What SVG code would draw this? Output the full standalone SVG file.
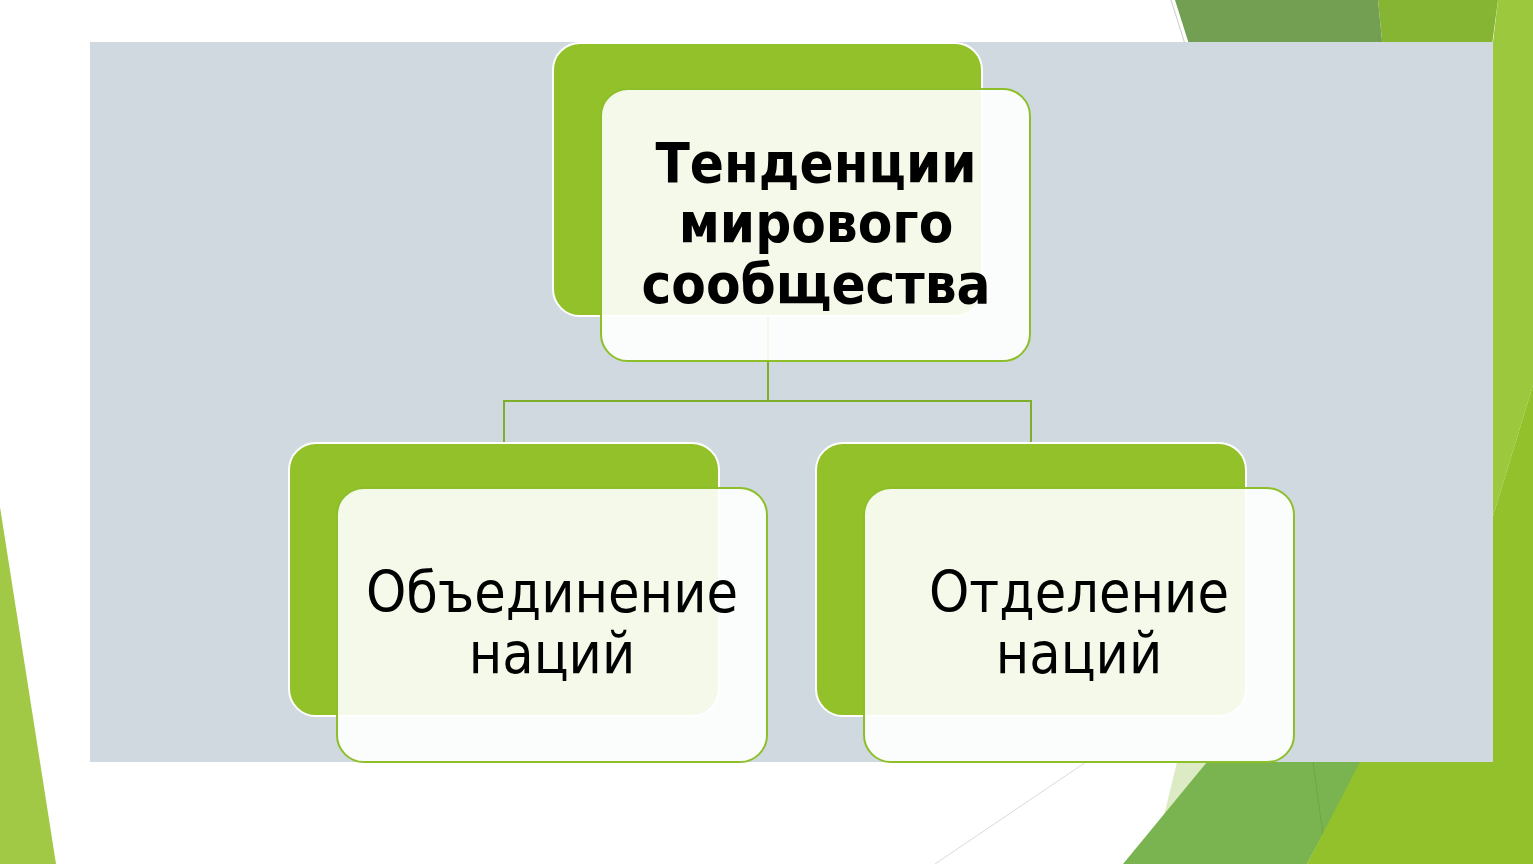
<svg xmlns="http://www.w3.org/2000/svg" width="1533" height="864" viewBox="0 0 1533 864">
<style>
.back{fill:#92C12A;stroke:#FFFFFF;stroke-width:2}
.front{fill:#FFFFFF;fill-opacity:0.9;stroke:#8DBF2B;stroke-width:2}
.conn{fill:none;stroke:#7FAE2C;stroke-width:2}
.t{font-family:"DejaVu Sans Condensed","DejaVu Sans","Noto Sans",sans-serif;font-stretch:condensed;font-size:57px;fill:#000000;text-anchor:middle}
.tb{font-weight:bold;font-size:56px}
</style>
<rect x="0" y="0" width="1533" height="864" fill="#FFFFFF"/>
<g id="decor">
<polygon points="1175,0 1378,0 1384,60 1194,60" fill="#729F52"/>
<line x1="1171" y1="0" x2="1185" y2="44" stroke="#C8CDC8" stroke-width="1"/>
<polygon points="1378,0 1498,0 1490,60 1384,60" fill="#86B534"/>
<polygon points="1498,0 1533,0 1533,385 1493,516 1493,42" fill="#9BC83C"/>
<polygon points="1493,516 1533,385 1533,864 1493,864" fill="#92C12B"/>
<polygon points="0,507 0,864 56,864" fill="#A2C945"/>
<polygon points="1177,762 1210,762 1163,820" fill="#DDEBC5"/>
<polygon points="1207,762 1362,762 1307,864 1123,864" fill="#7AB450"/>
<line x1="1313" y1="762" x2="1327" y2="864" stroke="#6FA548" stroke-width="1"/>
<polygon points="1360,762 1493,762 1493,864 1307,864" fill="#92C12B"/>
<line x1="935" y1="864" x2="1086" y2="762" stroke="#DADADA" stroke-width="1"/>
</g>
<rect x="90" y="42" width="1403" height="720" fill="#CFD9DF"/>
<g id="connectors">
<path class="conn" d="M768,300 V401 M504,443 V401 H1031 V443"/>
</g>
<g id="node-top">
<rect class="back" x="553" y="43" width="429" height="273" rx="27"/>
<rect class="front" x="601" y="89" width="429" height="272" rx="27"/>
<text class="t tb" x="816" y="182">Тенденции</text>
<text class="t tb" x="816" y="242">мирового</text>
<text class="t tb" x="816" y="303">сообщества</text>
</g>
<g id="node-left">
<rect class="back" x="289" y="443" width="430" height="273" rx="27"/>
<rect class="front" x="337" y="488" width="430" height="274" rx="27"/>
<text class="t" x="552" y="612">Объединение</text>
<text class="t" x="552" y="673">наций</text>
</g>
<g id="node-right">
<rect class="back" x="816" y="443" width="430" height="273" rx="27"/>
<rect class="front" x="864" y="488" width="430" height="274" rx="27"/>
<text class="t" x="1079" y="612">Отделение</text>
<text class="t" x="1079" y="673">наций</text>
</g>
</svg>
